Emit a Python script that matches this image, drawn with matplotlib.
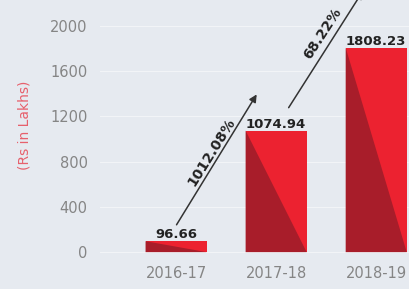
import matplotlib.pyplot as plt
from matplotlib.patches import Polygon

# data
years = ['2016-17', '2017-18', '2018-19']
values = [96.66, 1074.94, 1808.23]
growth_labels = ['1012.08%', '68.22%']
yticks = [0, 400, 800, 1200, 1600, 2000]

bg = '#e6eaf0'
bright = '#ec2230'
dark = '#a81d2a'

fig = plt.figure(figsize=(4.10, 2.89), dpi=100)
fig.patch.set_facecolor(bg)
ax = fig.add_axes([0.244, 0.108, 0.82, 0.892])
ax.set_facecolor(bg)

x = list(range(len(years)))
bars = ax.bar(x, values, width=0.61, color=bright, zorder=2)

# darker lower-left triangle on each bar
for b in bars:
    x0, w, h = b.get_x(), b.get_width(), b.get_height()
    tri = Polygon([(x0, 0), (x0, h), (x0 + w, 0)], closed=True,
                  facecolor=dark, edgecolor='none', zorder=3)
    ax.add_patch(tri)

# value labels
for i, v in enumerate(values):
    ax.text(i, v + 25, f"{v:.2f}", ha='center', va='baseline',
            fontsize=9.5, fontweight='bold', color='#222222', zorder=4)

ax.set_xlim(-0.76, 2.6)
ax.set_ylim(-50, 2230)
ax.set_yticks(yticks)
ax.set_xticks(x)
ax.set_xticklabels(years)
ax.tick_params(axis='both', length=0, labelsize=10.5, labelcolor='#858585')
ax.tick_params(axis='y', pad=9)
ax.tick_params(axis='x', pad=6)
for s in ax.spines.values():
    s.set_visible(False)
ax.grid(axis='y', color='#f2f4f7', linewidth=0.8, zorder=0)
ax.set_axisbelow(True)

# growth arrows
ax.annotate('', xy=(0.82, 1416), xytext=(-0.01, 221),
            arrowprops=dict(arrowstyle='-|>', color='#333333', lw=1.1,
                            mutation_scale=11), zorder=5)
ax.text(0.35, 885, growth_labels[0], rotation=58, ha='center', va='center',
        fontsize=10, fontweight='bold', color='#222222', zorder=5)

ax.annotate('', xy=(1.88, 2327), xytext=(1.11, 1257),
            arrowprops=dict(arrowstyle='-|>', color='#333333', lw=1.1,
                            mutation_scale=11), annotation_clip=False, zorder=5)
ax.text(1.46, 1938, growth_labels[1], rotation=57, ha='center', va='center',
        fontsize=10, fontweight='bold', color='#222222', zorder=5)

fig.text(25 / 410, 1 - 125 / 289, '(Rs in Lakhs)', rotation=90, ha='center',
         va='center', fontsize=10, color='#e6606c')

fig.savefig('out.png', dpi=100, facecolor=bg)
